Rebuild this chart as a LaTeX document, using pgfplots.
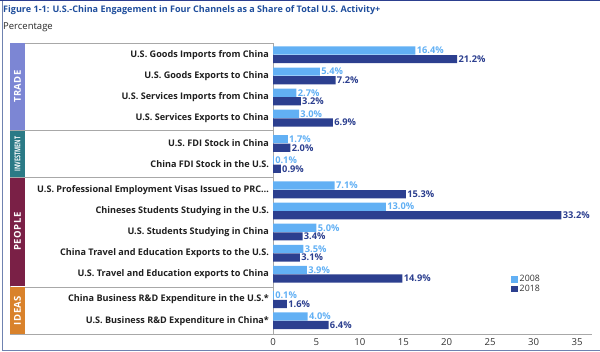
\documentclass[border=0pt]{standalone}
\usepackage{fontspec}
\setmainfont{Open Sans}
\usepackage{pgfplots}
\pgfplotsset{compat=1.18}
\definecolor{c08}{HTML}{62B0F4}
\definecolor{c18}{HTML}{2C3F8F}
\definecolor{titleblue}{HTML}{1F4E9C}
\definecolor{frameblue}{HTML}{2C3F8F}
\definecolor{framegray}{HTML}{6F82B0}
\definecolor{gtrade}{HTML}{7C86D4}
\definecolor{ginv}{HTML}{2B7A86}
\definecolor{gpeople}{HTML}{7A2046}
\definecolor{gideas}{HTML}{D9822B}
\definecolor{panelgray}{HTML}{A8A8A8}
\begin{document}
\begin{tikzpicture}[x=1pt,y=1pt]
\useasboundingbox (0,0) rectangle (600,-352);
\fill[frameblue] (0,0) rectangle (600,-1.5);
\draw[framegray, line width=0.8pt] (2,-1.5) -- (2,-350.6) -- (600,-350.6);
\node[anchor=west, inner sep=0pt, font=\bfseries\fontsize{9.05}{11}\selectfont, text=titleblue] at (3,-10.5) {Figure 1-1: U.S.-China Engagement in Four Channels as a Share of Total U.S. Activity+};
\node[anchor=west, inner sep=0pt, font=\fontsize{9.5}{11}\selectfont, text=black!85] at (3,-27) {Percentage};
% label panel
\draw[panelgray, line width=0.7pt] (10,-43) rectangle (273.5,-334);
\draw[panelgray, line width=0.7pt] (10,-130.7) -- (273.5,-130.7);
\draw[panelgray, line width=0.7pt] (10,-177.2) -- (273.5,-177.2);
\draw[panelgray, line width=0.7pt] (10,-286.9) -- (273.5,-286.9);
\fill[gtrade] (10,-43.4) rectangle (25,-130.2);
\fill[ginv] (10,-131.2) rectangle (25,-176.7);
\fill[gpeople] (10,-177.7) rectangle (25,-286.4);
\fill[gideas] (10,-287.4) rectangle (25,-333.6);
\node[rotate=90, text=white, font=\bfseries\fontsize{9.5}{10}\selectfont\addfontfeature{LetterSpace=5}] at (17.5,-86.5) {TRADE};
\node[rotate=90, text=white, font=\bfseries\fontsize{8}{8}\selectfont] at (17.5,-154) {\scalebox{0.68}[1]{INVESTMENT}};
\node[rotate=90, text=white, font=\bfseries\fontsize{9.5}{10}\selectfont\addfontfeature{LetterSpace=5}] at (17.5,-231.5) {PEOPLE};
\node[rotate=90, text=white, font=\bfseries\fontsize{9.5}{10}\selectfont\addfontfeature{LetterSpace=5}] at (17.5,-310.5) {IDEAS};
\begin{axis}[
  at={(273pt,-334pt)}, anchor=south west,
  scale only axis, width=318.8pt, height=291pt,
  xmin=0, xmax=36.7, ymin=-0.63, ymax=13.16,
  axis x line*=bottom, axis y line*=left,
  x axis line style={panelgray, line width=0.7pt},
  y axis line style={panelgray, line width=0.7pt},
  xtick={0,5,...,35}, major tick length=0pt,
  xticklabel style={font=\fontsize{9.6}{10}\selectfont, text=black!80, yshift=-1pt},
  ytick={12.6,11.6,10.6,9.6,8.4,7.4,6.2,5.2,4.2,3.2,2.2,1.0,0},
  yticklabels={{U.S. Goods Imports from China}, {U.S. Goods Exports to China}, {U.S. Services Imports from China}, {U.S. Services Exports to China}, {U.S. FDI Stock in China}, {China FDI Stock in the U.S.}, {U.S. Professional Employment Visas Issued to PRC\ldots}, {Chineses Students Studying in the U.S.}, {U.S. Students Studying in China}, {China Travel and Education Exports to the U.S.}, {U.S. Travel and Education exports to China}, {China Business R\&D Expenditure in the U.S.*}, {U.S. Business R\&D Expenditure in China*}},
  yticklabel style={font=\bfseries\fontsize{9.1}{10}\selectfont, text=black!88, xshift=-0.5pt},
  /pgf/number format/assume math mode=true,
  clip=false,
  point meta=x,
  nodes near coords={\pgfmathprintnumber[fixed,fixed zerofill,precision=1]{\pgfplotspointmeta}\%},
  nodes near coords style={font=\bfseries\fontsize{9.3}{10}\selectfont, inner sep=1.2pt, anchor=west},
  legend style={draw=none, fill=none, at={(axis cs:27.4,2.25)}, anchor=north west, font=\fontsize{8.8}{9}\selectfont, row sep=-2pt, inner sep=0pt, text=black!80},
  legend cell align=left,
  legend image code/.code={\fill[#1] (0pt,-3.2pt) rectangle (6.5pt,3.2pt);},
]
\addplot[xbar, bar width=8.2pt, bar shift=4.3pt, fill=c08, draw=none, nodes near coords style={text=c08, yshift=4.3pt}] coordinates {
(16.4,12.6) (5.4,11.6) (2.7,10.6) (3.0,9.6) (1.7,8.4) (0.1,7.4) (7.1,6.2) (13.0,5.2) (5.0,4.2) (3.5,3.2) (3.9,2.2) (0.1,1.0) (4.0,0)};
\addlegendentry{2008}
\addplot[xbar, bar width=8.2pt, bar shift=-4.3pt, fill=c18, draw=none, nodes near coords style={text=c18, yshift=-4.3pt}] coordinates {
(21.2,12.6) (7.2,11.6) (3.2,10.6) (6.9,9.6) (2.0,8.4) (0.9,7.4) (15.3,6.2) (33.2,5.2) (3.4,4.2) (3.1,3.2) (14.9,2.2) (1.6,1.0) (6.4,0)};
\addlegendentry{2018}
\end{axis}
\end{tikzpicture}
\end{document}
